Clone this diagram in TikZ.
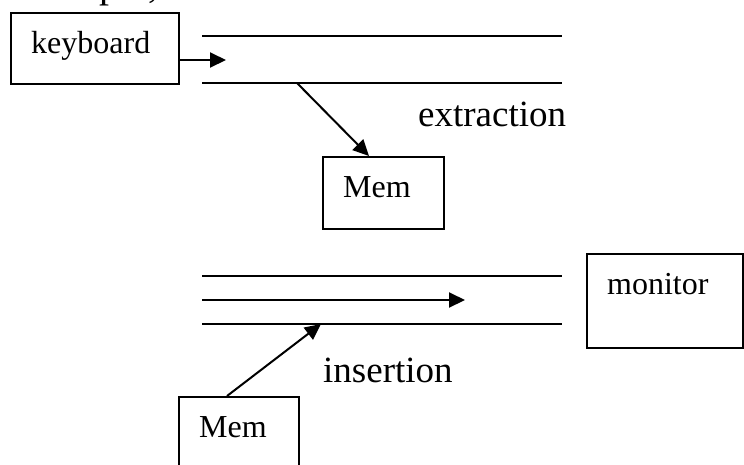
\documentclass[tikz,border=0pt]{standalone}
\usepackage{fontspec}
\setmainfont{Liberation Serif}
\usetikzlibrary{arrows.meta}
\tikzset{
  boxst/.style={draw, line width=2pt, inner sep=0pt, anchor=north west},
  lbl/.style={anchor=base west, inner sep=0pt, font=\fontsize{32}{38}\selectfont},
  biglbl/.style={anchor=base west, inner sep=0pt, font=\fontsize{37}{44}\selectfont},
  wire/.style={line width=2pt},
  arr/.style={line width=2pt, -{Triangle[length=16pt,width=15pt]}}
}
\begin{document}
\begin{tikzpicture}[x=1pt,y=-1pt]
\useasboundingbox (0,0) rectangle (744,464);
% cut-off text at the top
\node[anchor=base west, inner sep=0pt, font=\fontsize{40}{48}\selectfont] (frag) at (13,-3) {example,};
% boxes
\node[boxst, minimum width=168pt, minimum height=71pt] (kb) at (10,12) {};
\node[lbl] (kbt) at (31,53) {keyboard};
\node[boxst, minimum width=121pt, minimum height=72pt] (mem1) at (322,156) {};
\node[lbl] (mem1t) at (343,197) {Mem};
\node[boxst, minimum width=120pt, minimum height=80pt] (mem2) at (178,396) {};
\node[lbl] (mem2t) at (199,437) {Mem};
\node[boxst, minimum width=156pt, minimum height=94pt] (mon) at (586,253) {};
\node[lbl] (mont) at (607,294) {monitor};
% labels
\node[biglbl] (ext) at (418,126) {extraction};
\node[biglbl] (ins) at (323,382) {insertion};
% top channel
\coordinate (t1a) at (202,36);
\coordinate (t1b) at (562,36);
\coordinate (t2a) at (202,83);
\coordinate (t2b) at (562,83);
\draw[wire] (t1a) -- (t1b);
\draw[wire] (t2a) -- (t2b);
\coordinate (kbtip) at (226,60);
\draw[arr] (kb.east |- kbtip) -- (kbtip);
\coordinate (exs) at (297,83);
\coordinate (exe) at (369,156);
\draw[arr] (exs) -- (exe);
% bottom channel
\coordinate (b1a) at (202,276);
\coordinate (b1b) at (562,276);
\coordinate (b2a) at (202,300);
\coordinate (b2b) at (465,300);
\coordinate (b3a) at (202,324);
\coordinate (b3b) at (562,324);
\draw[wire] (b1a) -- (b1b);
\draw[arr] (b2a) -- (b2b);
\draw[wire] (b3a) -- (b3b);
\coordinate (ins0) at (227,396);
\coordinate (ins1) at (321,324);
\draw[arr] (ins0) -- (ins1);
\end{tikzpicture}
\end{document}
